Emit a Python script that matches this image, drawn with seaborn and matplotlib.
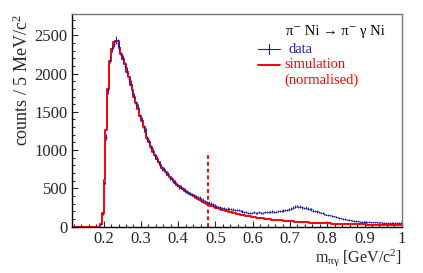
import numpy as np
import pandas as pd
import matplotlib
matplotlib.use('Agg')
import matplotlib.pyplot as plt
import seaborn as sns
from matplotlib.ticker import MultipleLocator

# histogram binning: 5 MeV bins from 0.115 to 1.0 GeV
bin_lo = 0.115
bin_width = 0.005

# simulation (normalised), counts per bin
sim_counts = [
    0, 0, 0, 0, 0, 0, 0, 0, 0, 0, 0, 0, 0, 0, 0,
    40, 175, 610, 1260, 1800, 2160, 2320, 2410, 2430, 2420,
    2330, 2260, 2190, 2120, 2020, 1950, 1850, 1780, 1690, 1620,
    1540, 1450, 1380, 1300, 1240, 1160, 1100, 1040, 980, 930,
    880, 840, 800, 770, 740, 710, 680, 650, 620, 595,
    570, 550, 530, 510, 490, 470, 455, 440, 425, 410,
    395, 378, 362, 347, 333, 320, 307, 295, 284, 274,
    264, 255, 246, 238, 229, 221, 213, 206, 199, 192,
    185, 179, 173, 167, 161, 156, 151, 146, 141, 137,
    132, 128, 124, 120, 116, 113, 110, 107, 104, 101,
    98, 95, 92, 90, 87, 85, 83, 80, 78, 76,
    74, 72, 70, 68, 66, 64, 62, 61, 59, 58,
    56, 55, 53, 52, 51, 50, 48, 47, 46, 45,
    44, 43, 42, 41, 40, 39, 38, 37, 37, 36,
    35, 34, 34, 33, 32, 32, 31, 30, 30, 29,
    29, 28, 28, 27, 27, 26, 26, 25, 25, 24,
    24, 24, 23, 23, 22, 22, 22, 21, 21, 20,
    20, 20,
]

# measured data, counts per bin
data_counts = [
    0, 0, 0, 0, 0, 0, 0, 0, 0, 0, 0, 0, 0, 0, 0,
    30, 170, 575, 1170, 1780, 2180, 2330, 2390, 2440, 2400,
    2350, 2240, 2200, 2100, 2040, 1930, 1870, 1760, 1700, 1600,
    1560, 1440, 1390, 1290, 1250, 1150, 1110, 1030, 990, 920,
    890, 830, 810, 760, 750, 700, 690, 640, 625, 590,
    580, 545, 520, 515, 495, 480, 455, 450, 430, 420,
    410, 395, 385, 375, 355, 350, 335, 320, 312, 300,
    290, 275, 265, 258, 250, 242, 240, 232, 235, 226,
    228, 222, 218, 212, 220, 205, 198, 195, 188, 182,
    178, 175, 185, 180, 178, 186, 182, 180, 190, 186,
    195, 192, 198, 194, 196, 200, 205, 202, 210, 212,
    220, 225, 235, 248, 262, 270, 258, 262, 250, 244,
    248, 236, 230, 225, 210, 200, 198, 188, 180, 172,
    165, 158, 152, 145, 138, 132, 126, 120, 114, 108,
    102, 96, 90, 86, 82, 78, 74, 72, 68, 66,
    64, 62, 60, 58, 62, 56, 55, 58, 54, 52,
    55, 52, 50, 53, 50, 52, 49, 50, 48, 51,
    47, 49,
]

cut_value = 0.48
cut_height = 970

n_bins = len(sim_counts)
edges = bin_lo + bin_width * np.arange(n_bins + 1)
df = pd.DataFrame({
    'mass': edges[:-1] + bin_width / 2,
    'sim': np.array(sim_counts, dtype=float),
    'data': np.array(data_counts, dtype=float),
})

sns.set_style('ticks')
plt.rcParams['font.family'] = ['Liberation Serif', 'DejaVu Serif']
plt.rcParams['mathtext.fontset'] = 'custom'
plt.rcParams['mathtext.rm'] = 'Liberation Serif'
plt.rcParams['mathtext.it'] = 'Liberation Serif:italic'
plt.rcParams['mathtext.default'] = 'regular'

fig = plt.figure(figsize=(4.23, 2.73), dpi=100)
ax = fig.add_axes([0.170, 0.170, 0.780, 0.779])

blue = '#1c1cb4'
red = '#ff0000'

# simulation as a step histogram
sns.histplot(data=df, x='mass', weights='sim', bins=edges.tolist(), element='step',
             fill=False, color=red, linewidth=1.4, ax=ax)

# data points with error bars
pts = df[df['data'] > 0]
ax.errorbar(pts['mass'], pts['data'], xerr=bin_width / 2,
            yerr=np.sqrt(pts['data']), fmt='none', ecolor=blue,
            elinewidth=0.7, capsize=0, zorder=3)

# cut line
ax.vlines(cut_value, 0, cut_height, colors=red, linestyles=(0, (2, 1.5)),
          linewidth=1.4)

ax.set_xlim(0.115, 1.0)
ax.set_ylim(0, 2780)
ax.set_xticks([0.2, 0.3, 0.4, 0.5, 0.6, 0.7, 0.8, 0.9, 1.0])
ax.set_xticklabels(['0.2', '0.3', '0.4', '0.5', '0.6', '0.7', '0.8', '0.9', '1'])
ax.xaxis.set_minor_locator(MultipleLocator(0.02))
ax.yaxis.set_major_locator(MultipleLocator(500))
ax.yaxis.set_minor_locator(MultipleLocator(100))
ax.tick_params(which='both', direction='in', top=False, right=False,
               labelsize=12, pad=3, width=0.8)
ax.tick_params(which='major', length=4.5)
ax.tick_params(which='minor', length=2.2)

for side in ['top', 'right']:
    ax.spines[side].set_color('#777777')
    ax.spines[side].set_linewidth(1.0)
for side in ['left', 'bottom']:
    ax.spines[side].set_color('black')
    ax.spines[side].set_linewidth(1.0)

ax.set_ylabel('counts / 5 MeV/c$^2$', fontsize=13, loc='top')
ax.yaxis.set_label_coords(-0.12, 1.0)
ax.set_xlabel(r'm$_{\pi\gamma}$ [GeV/c$^2$]', fontsize=11.5, loc='right')
ax.xaxis.set_label_coords(1.0, -0.095)

# legend block
ax.text(0.648, 0.915, 'π⁻ Ni → π⁻ γ Ni', transform=ax.transAxes,
        fontsize=10.5, color='black', va='center', ha='left')
ax.plot([0.565, 0.63], [0.835, 0.835], transform=ax.transAxes, color=blue, lw=0.8)
ax.plot([0.5975, 0.5975], [0.81, 0.86], transform=ax.transAxes, color=blue, lw=0.8)
ax.text(0.655, 0.835, 'data', transform=ax.transAxes, fontsize=10.5,
        color=blue, va='center', ha='left')
ax.plot([0.565, 0.63], [0.76, 0.76], transform=ax.transAxes, color=red, lw=1.4)
ax.text(0.645, 0.76, 'simulation', transform=ax.transAxes, fontsize=10.5,
        color=red, va='center', ha='left')
ax.text(0.645, 0.69, '(normalised)', transform=ax.transAxes, fontsize=10.5,
        color=red, va='center', ha='left')

fig.savefig('out.png', dpi=100)
